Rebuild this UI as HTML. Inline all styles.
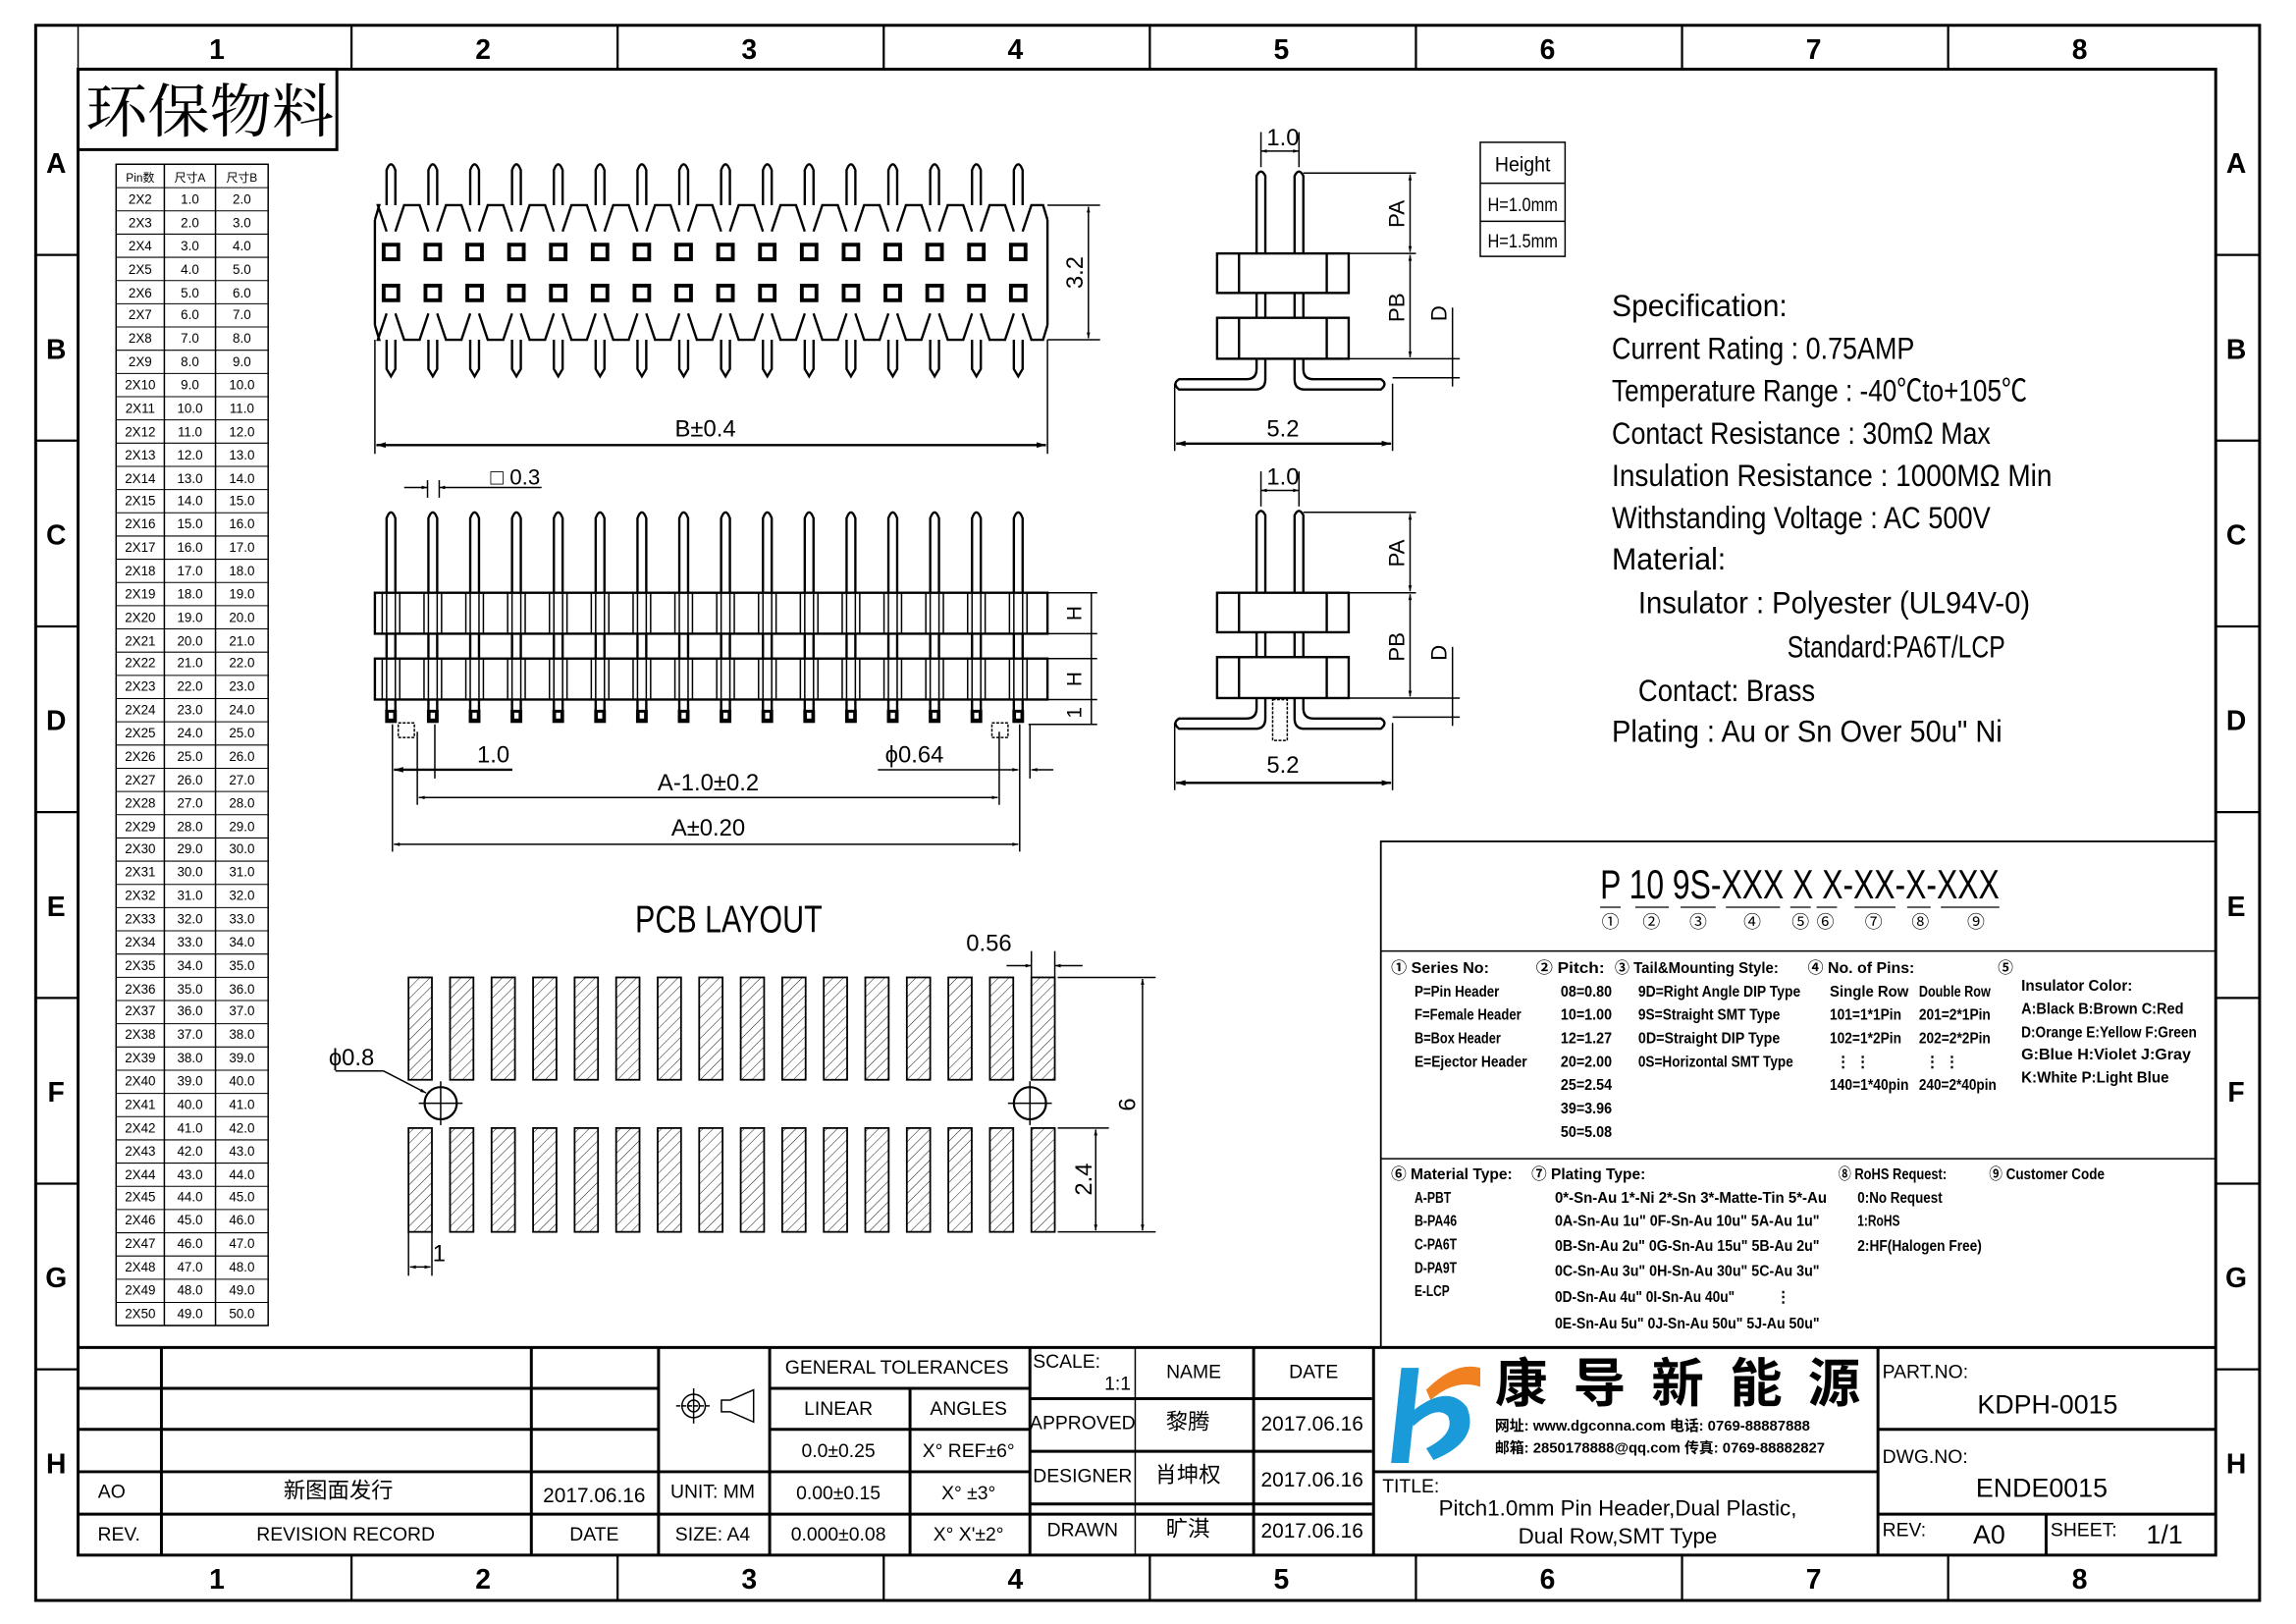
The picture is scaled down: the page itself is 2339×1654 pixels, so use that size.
<!DOCTYPE html>
<html><head><meta charset="utf-8"><style>
html,body{margin:0;padding:0;background:#fff}
svg{display:block}
text{font-family:"Liberation Sans Narrow","Liberation Sans","Noto Sans CJK SC",sans-serif;fill:#000}
.cj{font-family:"Liberation Sans","Noto Sans CJK SC",sans-serif}
.sr{font-family:"Liberation Serif","Noto Serif CJK SC",serif}
.b{font-weight:bold}
</style></head><body>
<svg id="s" xmlns="http://www.w3.org/2000/svg" width="2339" height="1654" viewBox="-0.4 -0.3 1570.3 1110.4" preserveAspectRatio="none">
<defs>
<marker id="ar" viewBox="0 0 10 10" refX="10" refY="5" markerWidth="6" markerHeight="4" orient="auto-start-reverse"><path d="M0,2 L10,5 L0,8z" fill="#000"/></marker>
<pattern id="h" width="5" height="5" patternUnits="userSpaceOnUse" patternTransform="rotate(45)"><line x1="0" y1="0" x2="0" y2="5" stroke="#000" stroke-width="0.6"/></pattern>
</defs>
<g fill="none" stroke="#000">
<rect x="24" y="17" width="1521" height="1077" stroke-width="2"/>
<rect x="53" y="47" width="1462" height="1016" stroke-width="2"/>
<line x1="53" y1="17" x2="53" y2="47"/>
<g stroke-width="1.5">
<line x1="240" y1="17" x2="240" y2="47"/><line x1="422" y1="17" x2="422" y2="47"/><line x1="604" y1="17" x2="604" y2="47"/><line x1="786" y1="17" x2="786" y2="47"/><line x1="968" y1="17" x2="968" y2="47"/><line x1="1150" y1="17" x2="1150" y2="47"/><line x1="1332" y1="17" x2="1332" y2="47"/>
<line x1="240" y1="1063" x2="240" y2="1094"/><line x1="422" y1="1063" x2="422" y2="1094"/><line x1="604" y1="1063" x2="604" y2="1094"/><line x1="786" y1="1063" x2="786" y2="1094"/><line x1="968" y1="1063" x2="968" y2="1094"/><line x1="1150" y1="1063" x2="1150" y2="1094"/><line x1="1332" y1="1063" x2="1332" y2="1094"/>
<line x1="24" y1="174" x2="53" y2="174"/><line x1="24" y1="301" x2="53" y2="301"/><line x1="24" y1="428" x2="53" y2="428"/><line x1="24" y1="555" x2="53" y2="555"/><line x1="24" y1="682" x2="53" y2="682"/><line x1="24" y1="809" x2="53" y2="809"/><line x1="24" y1="936" x2="53" y2="936"/>
<line x1="1515" y1="174" x2="1545" y2="174"/><line x1="1515" y1="301" x2="1545" y2="301"/><line x1="1515" y1="428" x2="1545" y2="428"/><line x1="1515" y1="555" x2="1545" y2="555"/><line x1="1515" y1="682" x2="1545" y2="682"/><line x1="1515" y1="809" x2="1545" y2="809"/><line x1="1515" y1="936" x2="1545" y2="936"/>
</g>
<rect x="53" y="47" width="177" height="55" stroke-width="2"/>
<rect x="79" y="112" width="104" height="794"/>
<line x1="112" y1="112" x2="112" y2="906"/><line x1="147" y1="112" x2="147" y2="906"/>
<g id="tl" stroke-width="0.7"></g>
<g stroke-width="2">
<line x1="53" y1="921" x2="1515" y2="921"/>
<line x1="53" y1="1035" x2="938" y2="1035"/>
<line x1="53" y1="1006" x2="704" y2="1006"/>
<line x1="53" y1="949" x2="450" y2="949"/><line x1="53" y1="977" x2="450" y2="977"/>
<line x1="526" y1="949" x2="704" y2="949"/><line x1="526" y1="977" x2="704" y2="977"/>
<line x1="704" y1="956" x2="938" y2="956"/><line x1="704" y1="992" x2="938" y2="992"/><line x1="704" y1="1028" x2="938" y2="1028"/>
<line x1="110" y1="921" x2="110" y2="1063"/><line x1="363" y1="921" x2="363" y2="1063"/><line x1="450" y1="921" x2="450" y2="1063"/><line x1="526" y1="921" x2="526" y2="1063"/>
<line x1="622" y1="949" x2="622" y2="1063"/><line x1="704" y1="921" x2="704" y2="1063"/><line x1="857" y1="921" x2="857" y2="1063"/><line x1="939" y1="921" x2="939" y2="1063"/>
<line x1="776" y1="921" x2="776" y2="1063" stroke-width="1"/>
<line x1="939" y1="1006" x2="1284" y2="1006"/><line x1="1284" y1="921" x2="1284" y2="1063"/>
<line x1="1284" y1="977" x2="1515" y2="977"/><line x1="1284" y1="1035" x2="1515" y2="1035"/><line x1="1399" y1="1035" x2="1399" y2="1063"/>
</g>
<circle cx="474" cy="961" r="8"/><circle cx="474" cy="961" r="4"/><line x1="462" y1="961" x2="486" y2="961" stroke-dasharray="3,1"/><line x1="474" y1="949" x2="474" y2="973"/>
<path d="M493,957 L499,957 L515,950 L515,972 L499,965 L493,965z"/>
<rect x="944" y="575" width="571" height="346" stroke-width="1.2"/>
<line x1="944" y1="650" x2="1515" y2="650"/><line x1="944" y1="792" x2="1515" y2="792"/>
<g stroke-width="0.8"><line x1="1094" y1="620" x2="1108" y2="620"/><line x1="1118" y1="620" x2="1141" y2="620"/><line x1="1149" y1="620" x2="1173" y2="620"/><line x1="1180" y1="620" x2="1217" y2="620"/><line x1="1224" y1="620" x2="1238" y2="620"/><line x1="1242" y1="620" x2="1256" y2="620"/><line x1="1268" y1="620" x2="1296" y2="620"/><line x1="1304" y1="620" x2="1320" y2="620"/><line x1="1327" y1="620" x2="1367" y2="620"/></g>
<rect x="1012" y="97" width="58" height="78"/><line x1="1012" y1="125" x2="1070" y2="125"/><line x1="1012" y1="151" x2="1070" y2="151"/>
<g id="tv" stroke-width="1.6"></g>
<g stroke-width="1">
<line x1="716" y1="140" x2="752" y2="140"/><line x1="716" y1="232" x2="752" y2="232"/>
<line x1="744" y1="141" x2="744" y2="231" marker-start="url(#ar)" marker-end="url(#ar)"/>
<line x1="256" y1="232" x2="256" y2="310"/><line x1="716" y1="232" x2="716" y2="310"/>
<line x1="257" y1="304" x2="715" y2="304" stroke-width="1.6" marker-start="url(#ar)" marker-end="url(#ar)"/>
</g>
<g id="sv" stroke-width="1.6"></g>
<g stroke-width="1">
<line x1="292" y1="340" x2="292" y2="328"/><line x1="300" y1="340" x2="300" y2="328"/>
<line x1="276" y1="333" x2="292" y2="333" marker-end="url(#ar)"/><line x1="370" y1="333" x2="300" y2="333" marker-end="url(#ar)"/>
<line x1="716" y1="405" x2="750" y2="405"/><line x1="716" y1="433" x2="750" y2="433"/><line x1="716" y1="450" x2="750" y2="450"/><line x1="716" y1="478" x2="750" y2="478"/><line x1="703" y1="495" x2="750" y2="495"/>
<line x1="746" y1="405" x2="746" y2="495"/>
<line x1="268" y1="495" x2="268" y2="582"/><line x1="285" y1="500" x2="285" y2="550"/><line x1="297" y1="495" x2="297" y2="532"/>
<line x1="683" y1="500" x2="683" y2="550"/><line x1="697" y1="495" x2="697" y2="582"/><line x1="704" y1="495" x2="704" y2="532"/>
<line x1="269" y1="526" x2="350" y2="526" stroke-width="1.6" marker-start="url(#ar)"/>
<line x1="600" y1="526" x2="696" y2="526" marker-end="url(#ar)"/><line x1="720" y1="526" x2="705" y2="526" marker-end="url(#ar)"/>
<line x1="286" y1="545" x2="682" y2="545" marker-start="url(#ar)" marker-end="url(#ar)"/>
<line x1="269" y1="577" x2="696" y2="577" marker-start="url(#ar)" marker-end="url(#ar)"/>
<rect x="272" y="494" width="11" height="10" stroke-dasharray="2,1"/><rect x="678" y="494" width="11" height="10" stroke-dasharray="2,1"/>
</g>
<g id="rv1" stroke-width="1.6">
<path d="M859,173 V120 Q862,114 865,120 V173 M885,173 V120 Q888,114 891,120 V173"/>
<rect x="832" y="173" width="90" height="27"/><line x1="847" y1="173" x2="847" y2="200"/><line x1="907" y1="173" x2="907" y2="200"/>
<path d="M859,200 V217 M865,200 V217 M885,200 V217 M891,200 V217"/>
<rect x="832" y="217" width="90" height="28"/><line x1="847" y1="217" x2="847" y2="245"/><line x1="907" y1="217" x2="907" y2="245"/>
<path d="M859,245 V252 Q859,259 852,259 H806 Q801,262 806,266 H858 Q865,266 865,259 V245"/>
<path d="M891,245 V252 Q891,259 898,259 H944 Q949,262 944,266 H892 Q885,266 885,259 V245"/>
<g stroke-width="1">
<line x1="862" y1="114" x2="862" y2="90"/><line x1="888" y1="114" x2="888" y2="90"/><line x1="862" y1="103" x2="888" y2="103" marker-start="url(#ar)" marker-end="url(#ar)"/>
<line x1="891" y1="118" x2="968" y2="118"/><line x1="922" y1="173" x2="968" y2="173"/><line x1="922" y1="245" x2="998" y2="245"/><line x1="952" y1="258" x2="998" y2="258"/>
<line x1="964" y1="119" x2="964" y2="172" marker-start="url(#ar)" marker-end="url(#ar)"/>
<line x1="964" y1="174" x2="964" y2="244" marker-start="url(#ar)" marker-end="url(#ar)"/>
<line x1="993" y1="210" x2="993" y2="264"/>
<line x1="803" y1="262" x2="803" y2="308"/><line x1="952" y1="262" x2="952" y2="308"/>
<line x1="804" y1="303" x2="951" y2="303" stroke-width="1.6" marker-start="url(#ar)" marker-end="url(#ar)"/>
</g>
</g>
<use href="#rv1" transform="translate(0,232)"/>
<rect x="870" y="478" width="10" height="28" stroke-dasharray="2,1"/>
<g id="pcb" stroke-width="1.2"></g>
<circle cx="301" cy="754" r="11" stroke-width="1.5"/><circle cx="704" cy="754" r="11" stroke-width="1.5"/>
<line x1="286" y1="754" x2="316" y2="754"/><line x1="301" y1="739" x2="301" y2="769"/><line x1="689" y1="754" x2="719" y2="754"/><line x1="704" y1="739" x2="704" y2="769"/>
<line x1="229" y1="732" x2="262" y2="732"/><line x1="262" y1="732" x2="291" y2="747" marker-end="url(#ar)"/>
<g stroke-width="1">
<line x1="705" y1="668" x2="705" y2="650"/><line x1="721" y1="668" x2="721" y2="650"/>
<line x1="688" y1="660" x2="705" y2="660" marker-end="url(#ar)"/><line x1="740" y1="660" x2="721" y2="660" marker-end="url(#ar)"/>
<line x1="723" y1="668" x2="790" y2="668"/><line x1="723" y1="842" x2="790" y2="842"/><line x1="723" y1="771" x2="758" y2="771"/>
<line x1="781" y1="669" x2="781" y2="841" marker-start="url(#ar)" marker-end="url(#ar)"/>
<line x1="749" y1="772" x2="749" y2="841" marker-start="url(#ar)" marker-end="url(#ar)"/>
<line x1="279" y1="842" x2="279" y2="872"/><line x1="295" y1="842" x2="295" y2="872"/>
<line x1="280" y1="866" x2="294" y2="866" marker-start="url(#ar)" marker-end="url(#ar)"/>
</g>
</g>
<path d="M958,935 L970,935 L963,1000 L951,1000z" fill="#1a9ad8"/>
<path d="M965,965 Q990,945 1003,962 Q1012,985 980,998 L975,990 Q995,980 990,968 Q982,960 966,975z" fill="#1a9ad8"/>
<path d="M975,950 Q995,930 1012,935 L1012,948 Q995,942 978,957z" fill="#f08020"/>
<g font-size="19" class="b" text-anchor="middle">
<text x="148" y="40">1</text><text x="330" y="40">2</text><text x="512" y="40">3</text><text x="694" y="40">4</text><text x="876" y="40">5</text><text x="1058" y="40">6</text><text x="1240" y="40">7</text><text x="1422" y="40">8</text>
<text x="148" y="1086">1</text><text x="330" y="1086">2</text><text x="512" y="1086">3</text><text x="694" y="1086">4</text><text x="876" y="1086">5</text><text x="1058" y="1086">6</text><text x="1240" y="1086">7</text><text x="1422" y="1086">8</text>
<text x="38" y="118">A</text><text x="38" y="245">B</text><text x="38" y="372">C</text><text x="38" y="499">D</text><text x="38" y="626">E</text><text x="38" y="753">F</text><text x="38" y="880">G</text><text x="38" y="1007">H</text>
<text x="1529" y="118">A</text><text x="1529" y="245">B</text><text x="1529" y="372">C</text><text x="1529" y="499">D</text><text x="1529" y="626">E</text><text x="1529" y="753">F</text><text x="1529" y="880">G</text><text x="1529" y="1007">H</text>
</g>
<text x="58" y="90" font-size="40" class="sr" textLength="170" lengthAdjust="spacingAndGlyphs">环保物料</text>
<g font-size="9" text-anchor="middle">
<text x="95.5" y="124" class="cj" font-size="8">Pin数</text><text x="129.5" y="124" class="cj" font-size="8">尺寸A</text><text x="165" y="124" class="cj" font-size="8">尺寸B</text>
<text x="95.5" y="139">2X2</text><text x="129.5" y="139">1.0</text><text x="165" y="139">2.0</text>
<text x="95.5" y="155">2X3</text><text x="129.5" y="155">2.0</text><text x="165" y="155">3.0</text>
<text x="95.5" y="171">2X4</text><text x="129.5" y="171">3.0</text><text x="165" y="171">4.0</text>
<text x="95.5" y="187">2X5</text><text x="129.5" y="187">4.0</text><text x="165" y="187">5.0</text>
<text x="95.5" y="203">2X6</text><text x="129.5" y="203">5.0</text><text x="165" y="203">6.0</text>
<text x="95.5" y="218">2X7</text><text x="129.5" y="218">6.0</text><text x="165" y="218">7.0</text>
<text x="95.5" y="234">2X8</text><text x="129.5" y="234">7.0</text><text x="165" y="234">8.0</text>
<text x="95.5" y="250">2X9</text><text x="129.5" y="250">8.0</text><text x="165" y="250">9.0</text>
<text x="95.5" y="266">2X10</text><text x="129.5" y="266">9.0</text><text x="165" y="266">10.0</text>
<text x="95.5" y="282">2X11</text><text x="129.5" y="282">10.0</text><text x="165" y="282">11.0</text>
<text x="95.5" y="298">2X12</text><text x="129.5" y="298">11.0</text><text x="165" y="298">12.0</text>
<text x="95.5" y="314">2X13</text><text x="129.5" y="314">12.0</text><text x="165" y="314">13.0</text>
<text x="95.5" y="330">2X14</text><text x="129.5" y="330">13.0</text><text x="165" y="330">14.0</text>
<text x="95.5" y="345">2X15</text><text x="129.5" y="345">14.0</text><text x="165" y="345">15.0</text>
<text x="95.5" y="361">2X16</text><text x="129.5" y="361">15.0</text><text x="165" y="361">16.0</text>
<text x="95.5" y="377">2X17</text><text x="129.5" y="377">16.0</text><text x="165" y="377">17.0</text>
<text x="95.5" y="393">2X18</text><text x="129.5" y="393">17.0</text><text x="165" y="393">18.0</text>
<text x="95.5" y="409">2X19</text><text x="129.5" y="409">18.0</text><text x="165" y="409">19.0</text>
<text x="95.5" y="425">2X20</text><text x="129.5" y="425">19.0</text><text x="165" y="425">20.0</text>
<text x="95.5" y="441">2X21</text><text x="129.5" y="441">20.0</text><text x="165" y="441">21.0</text>
<text x="95.5" y="456">2X22</text><text x="129.5" y="456">21.0</text><text x="165" y="456">22.0</text>
<text x="95.5" y="472">2X23</text><text x="129.5" y="472">22.0</text><text x="165" y="472">23.0</text>
<text x="95.5" y="488">2X24</text><text x="129.5" y="488">23.0</text><text x="165" y="488">24.0</text>
<text x="95.5" y="504">2X25</text><text x="129.5" y="504">24.0</text><text x="165" y="504">25.0</text>
<text x="95.5" y="520">2X26</text><text x="129.5" y="520">25.0</text><text x="165" y="520">26.0</text>
<text x="95.5" y="536">2X27</text><text x="129.5" y="536">26.0</text><text x="165" y="536">27.0</text>
<text x="95.5" y="552">2X28</text><text x="129.5" y="552">27.0</text><text x="165" y="552">28.0</text>
<text x="95.5" y="568">2X29</text><text x="129.5" y="568">28.0</text><text x="165" y="568">29.0</text>
<text x="95.5" y="583">2X30</text><text x="129.5" y="583">29.0</text><text x="165" y="583">30.0</text>
<text x="95.5" y="599">2X31</text><text x="129.5" y="599">30.0</text><text x="165" y="599">31.0</text>
<text x="95.5" y="615">2X32</text><text x="129.5" y="615">31.0</text><text x="165" y="615">32.0</text>
<text x="95.5" y="631">2X33</text><text x="129.5" y="631">32.0</text><text x="165" y="631">33.0</text>
<text x="95.5" y="647">2X34</text><text x="129.5" y="647">33.0</text><text x="165" y="647">34.0</text>
<text x="95.5" y="663">2X35</text><text x="129.5" y="663">34.0</text><text x="165" y="663">35.0</text>
<text x="95.5" y="679">2X36</text><text x="129.5" y="679">35.0</text><text x="165" y="679">36.0</text>
<text x="95.5" y="694">2X37</text><text x="129.5" y="694">36.0</text><text x="165" y="694">37.0</text>
<text x="95.5" y="710">2X38</text><text x="129.5" y="710">37.0</text><text x="165" y="710">38.0</text>
<text x="95.5" y="726">2X39</text><text x="129.5" y="726">38.0</text><text x="165" y="726">39.0</text>
<text x="95.5" y="742">2X40</text><text x="129.5" y="742">39.0</text><text x="165" y="742">40.0</text>
<text x="95.5" y="758">2X41</text><text x="129.5" y="758">40.0</text><text x="165" y="758">41.0</text>
<text x="95.5" y="774">2X42</text><text x="129.5" y="774">41.0</text><text x="165" y="774">42.0</text>
<text x="95.5" y="790">2X43</text><text x="129.5" y="790">42.0</text><text x="165" y="790">43.0</text>
<text x="95.5" y="806">2X44</text><text x="129.5" y="806">43.0</text><text x="165" y="806">44.0</text>
<text x="95.5" y="821">2X45</text><text x="129.5" y="821">44.0</text><text x="165" y="821">45.0</text>
<text x="95.5" y="837">2X46</text><text x="129.5" y="837">45.0</text><text x="165" y="837">46.0</text>
<text x="95.5" y="853">2X47</text><text x="129.5" y="853">46.0</text><text x="165" y="853">47.0</text>
<text x="95.5" y="869">2X48</text><text x="129.5" y="869">47.0</text><text x="165" y="869">48.0</text>
<text x="95.5" y="885">2X49</text><text x="129.5" y="885">48.0</text><text x="165" y="885">49.0</text>
<text x="95.5" y="901">2X50</text><text x="129.5" y="901">49.0</text><text x="165" y="901">50.0</text>
</g>
<g font-size="16" text-anchor="middle">
<text x="482" y="298">B±0.4</text>
<text transform="translate(740,186) rotate(-90)">3.2</text>
<text x="352" y="331" font-size="15">□ 0.3</text>
<text transform="translate(739,419) rotate(-90)" font-size="14">H</text>
<text transform="translate(739,464) rotate(-90)" font-size="14">H</text>
<text transform="translate(739,487) rotate(-90)" font-size="14">1</text>
<text x="337" y="521">1.0</text><text x="625" y="521">ϕ0.64</text>
<text x="484" y="540">A-1.0±0.2</text><text x="484" y="571">A±0.20</text>
<text x="877" y="99">1.0</text><text x="877" y="298">5.2</text>
<text transform="translate(960,146) rotate(-90)" font-size="15">PA</text><text transform="translate(960,210) rotate(-90)" font-size="15">PB</text><text transform="translate(989,214) rotate(-90)" font-size="15">D</text>
<text x="877" y="331">1.0</text><text x="877" y="528">5.2</text>
<text transform="translate(960,378) rotate(-90)" font-size="15">PA</text><text transform="translate(960,442) rotate(-90)" font-size="15">PB</text><text transform="translate(989,446) rotate(-90)" font-size="15">D</text>
<text x="1041" y="117" font-size="14" textLength="38" lengthAdjust="spacingAndGlyphs">Height</text><text x="1041" y="144" font-size="13" textLength="48" lengthAdjust="spacingAndGlyphs">H=1.0mm</text><text x="1041" y="169" font-size="13" textLength="48" lengthAdjust="spacingAndGlyphs">H=1.5mm</text>
<text x="498" y="637" font-size="26" textLength="128" lengthAdjust="spacingAndGlyphs">PCB  LAYOUT</text>
<text x="676" y="650">0.56</text><text x="240" y="728">ϕ0.8</text>
<text transform="translate(776,755) rotate(-90)">6</text><text transform="translate(746,806) rotate(-90)">2.4</text>
<text x="300" y="862">1</text>
</g>
<g font-size="21">
<text x="1102" y="216" textLength="120" lengthAdjust="spacingAndGlyphs">Specification:</text>
<text x="1102" y="245" textLength="207" lengthAdjust="spacingAndGlyphs">Current Rating : 0.75AMP</text>
<text x="1102" y="274" textLength="284" lengthAdjust="spacingAndGlyphs">Temperature Range : -40℃to+105℃</text>
<text x="1102" y="303" textLength="259" lengthAdjust="spacingAndGlyphs">Contact Resistance : 30mΩ Max</text>
<text x="1102" y="332" textLength="301" lengthAdjust="spacingAndGlyphs">Insulation Resistance : 1000MΩ Min</text>
<text x="1102" y="361" textLength="259" lengthAdjust="spacingAndGlyphs">Withstanding Voltage : AC 500V</text>
<text x="1102" y="389" textLength="78" lengthAdjust="spacingAndGlyphs">Material:</text>
<text x="1120" y="419" textLength="268" lengthAdjust="spacingAndGlyphs">Insulator : Polyester (UL94V-0)</text>
<text x="1222" y="449" textLength="149" lengthAdjust="spacingAndGlyphs">Standard:PA6T/LCP</text>
<text x="1120" y="479" textLength="121" lengthAdjust="spacingAndGlyphs">Contact: Brass</text>
<text x="1102" y="507" textLength="267" lengthAdjust="spacingAndGlyphs">Plating : Au or Sn Over 50u" Ni</text>
</g>
<text x="1094" y="614" font-size="28" textLength="273" lengthAdjust="spacingAndGlyphs" xml:space="preserve">P 10 9S-XXX X X-XX-X-XXX</text>
<g font-size="12" text-anchor="middle" class="cj">
<text x="1101" y="634">①</text><text x="1129" y="634">②</text><text x="1161" y="634">③</text><text x="1198" y="634">④</text><text x="1231" y="634">⑤</text><text x="1248" y="634">⑥</text><text x="1281" y="634">⑦</text><text x="1313" y="634">⑧</text><text x="1351" y="634">⑨</text>
</g>
<g font-size="10.5" class="b" lengthAdjust="spacingAndGlyphs">
<text x="951" y="665" textLength="67" lengthAdjust="spacingAndGlyphs">① Series No:</text><text x="967" y="681" textLength="58" lengthAdjust="spacingAndGlyphs">P=Pin Header</text><text x="967" y="697" textLength="73" lengthAdjust="spacingAndGlyphs">F=Female Header</text><text x="967" y="713" textLength="59" lengthAdjust="spacingAndGlyphs">B=Box Header</text><text x="967" y="729" textLength="77" lengthAdjust="spacingAndGlyphs">E=Ejector Header</text>
<text x="1050" y="665" textLength="47" lengthAdjust="spacingAndGlyphs">② Pitch:</text><text x="1067" y="681" textLength="35" lengthAdjust="spacingAndGlyphs">08=0.80</text><text x="1067" y="697" textLength="35" lengthAdjust="spacingAndGlyphs">10=1.00</text><text x="1067" y="713" textLength="35" lengthAdjust="spacingAndGlyphs">12=1.27</text><text x="1067" y="729" textLength="35" lengthAdjust="spacingAndGlyphs">20=2.00</text><text x="1067" y="745" textLength="35" lengthAdjust="spacingAndGlyphs">25=2.54</text><text x="1067" y="761" textLength="35" lengthAdjust="spacingAndGlyphs">39=3.96</text><text x="1067" y="777" textLength="35" lengthAdjust="spacingAndGlyphs">50=5.08</text>
<text x="1104" y="665" textLength="112" lengthAdjust="spacingAndGlyphs">③ Tail&amp;Mounting Style:</text><text x="1120" y="681" textLength="111" lengthAdjust="spacingAndGlyphs">9D=Right Angle DIP Type</text><text x="1120" y="697" textLength="97" lengthAdjust="spacingAndGlyphs">9S=Straight SMT Type</text><text x="1120" y="713" textLength="97" lengthAdjust="spacingAndGlyphs">0D=Straight DIP Type</text><text x="1120" y="729" textLength="106" lengthAdjust="spacingAndGlyphs">0S=Horizontal SMT Type</text>
<text x="1236" y="665" textLength="73" lengthAdjust="spacingAndGlyphs">④ No. of Pins:</text><text x="1251" y="681" textLength="54" lengthAdjust="spacingAndGlyphs">Single Row</text><text x="1312" y="681" textLength="49" lengthAdjust="spacingAndGlyphs">Double Row</text><text x="1251" y="697" textLength="49" lengthAdjust="spacingAndGlyphs">101=1*1Pin</text><text x="1312" y="697" textLength="49" lengthAdjust="spacingAndGlyphs">201=2*1Pin</text><text x="1251" y="713" textLength="49" lengthAdjust="spacingAndGlyphs">102=1*2Pin</text><text x="1312" y="713" textLength="49" lengthAdjust="spacingAndGlyphs">202=2*2Pin</text><text x="1255" y="729">⋮ ⋮</text><text x="1316" y="729">⋮ ⋮</text><text x="1251" y="745" textLength="54" lengthAdjust="spacingAndGlyphs">140=1*40pin</text><text x="1312" y="745" textLength="53" lengthAdjust="spacingAndGlyphs">240=2*40pin</text>
<text x="1366" y="665">⑤</text><text x="1382" y="677" textLength="76" lengthAdjust="spacingAndGlyphs">Insulator Color:</text><text x="1382" y="693" textLength="111" lengthAdjust="spacingAndGlyphs">A:Black  B:Brown  C:Red</text><text x="1382" y="709" textLength="120" lengthAdjust="spacingAndGlyphs">D:Orange E:Yellow F:Green</text><text x="1382" y="724" textLength="116" lengthAdjust="spacingAndGlyphs">G:Blue   H:Violet J:Gray</text><text x="1382" y="740" textLength="101" lengthAdjust="spacingAndGlyphs">K:White  P:Light Blue</text>
<text x="951" y="806" textLength="83" lengthAdjust="spacingAndGlyphs">⑥ Material Type:</text><text x="967" y="822" textLength="25" lengthAdjust="spacingAndGlyphs">A-PBT</text><text x="967" y="838" textLength="29" lengthAdjust="spacingAndGlyphs">B-PA46</text><text x="967" y="854" textLength="29" lengthAdjust="spacingAndGlyphs">C-PA6T</text><text x="967" y="870" textLength="29" lengthAdjust="spacingAndGlyphs">D-PA9T</text><text x="967" y="886" textLength="24" lengthAdjust="spacingAndGlyphs">E-LCP</text>
<text x="1047" y="806" textLength="78" lengthAdjust="spacingAndGlyphs">⑦ Plating Type:</text>
<text x="1063" y="822" textLength="186" lengthAdjust="spacingAndGlyphs">0*-Sn-Au 1*-Ni 2*-Sn 3*-Matte-Tin 5*-Au</text>
<text x="1063" y="838" textLength="181" lengthAdjust="spacingAndGlyphs">0A-Sn-Au 1u" 0F-Sn-Au 10u"  5A-Au 1u"</text>
<text x="1063" y="855" textLength="181" lengthAdjust="spacingAndGlyphs">0B-Sn-Au 2u" 0G-Sn-Au 15u"  5B-Au 2u"</text>
<text x="1063" y="872" textLength="181" lengthAdjust="spacingAndGlyphs">0C-Sn-Au 3u" 0H-Sn-Au 30u"  5C-Au 3u"</text>
<text x="1063" y="890" textLength="123" lengthAdjust="spacingAndGlyphs">0D-Sn-Au 4u" 0I-Sn-Au 40u"</text><text x="1214" y="890">⋮</text>
<text x="1063" y="908" textLength="181" lengthAdjust="spacingAndGlyphs">0E-Sn-Au 5u" 0J-Sn-Au 50u"  5J-Au 50u"</text>
<text x="1257" y="806" textLength="74" lengthAdjust="spacingAndGlyphs">⑧ RoHS Request:</text><text x="1270" y="822" textLength="58" lengthAdjust="spacingAndGlyphs">0:No Request</text><text x="1270" y="838" textLength="29" lengthAdjust="spacingAndGlyphs">1:RoHS</text><text x="1270" y="855" textLength="85" lengthAdjust="spacingAndGlyphs">2:HF(Halogen Free)</text>
<text x="1360" y="806" textLength="79" lengthAdjust="spacingAndGlyphs">⑨ Customer Code</text>
</g>
<g font-size="13" text-anchor="middle">
<text x="613" y="939">GENERAL TOLERANCES</text>
<text x="573" y="967">LINEAR</text><text x="662" y="967">ANGLES</text>
<text x="573" y="996">0.0±0.25</text><text x="662" y="996">X° REF±6°</text>
<text x="573" y="1025">0.00±0.15</text><text x="662" y="1025">X° ±3°</text>
<text x="573" y="1053">0.000±0.08</text><text x="662" y="1053">X° X'±2°</text>
<text x="487" y="1024">UNIT: MM</text><text x="487" y="1053">SIZE: A4</text>
<text x="76" y="1024">AO</text><text x="81" y="1053">REV.</text>
<text x="236" y="1053">REVISION RECORD</text><text x="406" y="1053">DATE</text>
<text x="406" y="1027" font-size="14">2017.06.16</text>
<text x="231" y="1024" class="cj" font-size="15">新图面发行</text>
<text x="764" y="950">1:1</text>
<text x="740" y="977">APPROVED</text><text x="740" y="1013">DESIGNER</text><text x="740" y="1050">DRAWN</text>
<text x="816" y="942">NAME</text><text x="898" y="942">DATE</text>
<text x="812" y="977" class="cj" font-size="15">黎腾</text><text x="812" y="1013" class="cj" font-size="15">肖坤权</text><text x="812" y="1050" class="cj" font-size="15">旷淇</text>
<text x="897" y="978" font-size="14">2017.06.16</text><text x="897" y="1016" font-size="14">2017.06.16</text><text x="897" y="1051" font-size="14">2017.06.16</text>
</g>
<text x="706" y="935" font-size="13">SCALE:</text>
<text x="1022" y="958" font-size="36" class="cj b" textLength="250" lengthAdjust="spacing">康导新能源</text>
<text x="1022" y="978" font-size="10" class="cj b">网址: www.dgconna.com   电话: 0769-88887888</text>
<text x="1022" y="993" font-size="10" class="cj b">邮箱: 2850178888@qq.com 传真: 0769-88882827</text>
<text x="945" y="1020" font-size="13">TITLE:</text>
<text x="1106" y="1036" font-size="15" text-anchor="middle">Pitch1.0mm Pin Header,Dual Plastic,</text>
<text x="1106" y="1055" font-size="15" text-anchor="middle">Dual Row,SMT Type</text>
<text x="1287" y="942" font-size="13">PART.NO:</text>
<text x="1400" y="966" font-size="18" text-anchor="middle">KDPH-0015</text>
<text x="1287" y="1000" font-size="13">DWG.NO:</text>
<text x="1396" y="1023" font-size="18" text-anchor="middle">ENDE0015</text>
<text x="1287" y="1050" font-size="13">REV:</text><text x="1360" y="1055" font-size="18" text-anchor="middle">A0</text>
<text x="1402" y="1050" font-size="13">SHEET:</text><text x="1480" y="1055" font-size="18" text-anchor="middle">1/1</text>
</svg>
<script>
(function(){
var N='http://www.w3.org/2000/svg';
function el(p,t,a){var e=document.createElementNS(N,t);for(var k in a)e.setAttribute(k,a[k]);p.appendChild(e);return e;}
var tl=document.getElementById('tl');
for(var i=0;i<50;i++){var y=128+15.88*i;el(tl,'line',{x1:79,y1:y,x2:183,y2:y});}
var tv=document.getElementById('tv');
var xs=[];for(var i=0;i<16;i++)xs.push(267+28.6*i);
var top='M256,150 L259,140',bot='M256,222 L259,232';
xs.forEach(function(x,i){
 el(tv,'path',{d:'M'+(x-3)+',140 V116 Q'+x+',108 '+(x+3)+',116 V140'});
 el(tv,'path',{d:'M'+(x-3)+',232 V252 L'+x+',257 L'+(x+3)+',252 V232'});
 top+=' L'+(x-9)+',140 L'+(x-3)+',158 M'+(x+3)+',158 L'+(x+9)+',140';
 bot+=' L'+(x-9)+',232 L'+(x-3)+',214 M'+(x+3)+',214 L'+(x+9)+',232';
 el(tv,'rect',{x:x-5,y:167,width:10,height:10,'stroke-width':2.6});
 el(tv,'rect',{x:x-5,y:195,width:10,height:10,'stroke-width':2.6});
});
top+=' L713,140 L716,150';bot+=' L713,232 L716,222';
el(tv,'path',{d:top});el(tv,'path',{d:bot});
el(tv,'line',{x1:256,y1:150,x2:256,y2:222});el(tv,'line',{x1:716,y1:150,x2:716,y2:222});
var sv=document.getElementById('sv');
el(sv,'rect',{x:256,y:405,width:460,height:28});el(sv,'rect',{x:256,y:450,width:460,height:28});
xs.forEach(function(x){
 el(sv,'path',{d:'M'+(x-3)+',405 V354 Q'+x+',346 '+(x+3)+',354 V405'});
 el(sv,'path',{d:'M'+(x-3)+',433 V450 M'+(x+3)+',433 V450 M'+(x-3)+',478 V486 M'+(x+3)+',478 V486'});
 [405,450].forEach(function(y){[-6,-3,3,6].forEach(function(d){el(sv,'line',{x1:x+d,y1:y,x2:x+d,y2:y+28,'stroke-width':1});});});
 el(sv,'rect',{x:x-4,y:485,width:8,height:9,fill:'#000',stroke:'none'});
 el(sv,'rect',{x:x-1.5,y:487,width:3,height:4,fill:'#fff',stroke:'none'});
});
var pcb=document.getElementById('pcb');
for(var i=0;i<16;i++){var x=279+28.4*i;
 el(pcb,'rect',{x:x,y:668,width:16,height:70,fill:'url(#h)'});
 el(pcb,'rect',{x:x,y:771,width:16,height:71,fill:'url(#h)'});}
})();
</script>
</body></html>
